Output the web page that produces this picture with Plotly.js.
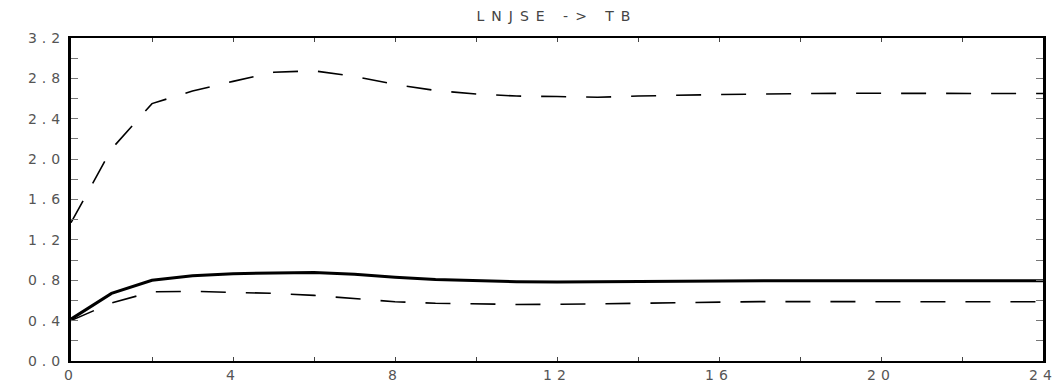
<!DOCTYPE html>
<html>
<head>
<meta charset="utf-8">
<script src="https://cdn.plot.ly/plotly-3.0.1.min.js"></script>
<style>
  html, body { margin: 0; padding: 0; background: #fff; }
  #chart { width: 1057px; height: 385px; }
  .xtick text, .ytick text { letter-spacing: 5px; }
  .gtitle { letter-spacing: 7px; }
</style>
</head>
<body>
<div id="chart"></div>
<script>
// Horizon (periods)
const horizon = [0,1,2,3,4,5,6,7,8,9,10,11,12,13,14,15,16,17,18,19,20,21,22,23,24];
// Impulse response LNJSE -> TB
const response = [0.415,0.67,0.80,0.845,0.865,0.875,0.878,0.86,0.83,0.808,0.795,0.785,0.782,0.785,0.79,0.793,0.795,0.796,0.796,0.796,0.796,0.796,0.795,0.795,0.795];
// Upper confidence band
const upperBand = [1.37,2.10,2.55,2.675,2.77,2.86,2.875,2.82,2.74,2.68,2.645,2.625,2.62,2.613,2.625,2.635,2.64,2.645,2.65,2.652,2.652,2.652,2.65,2.65,2.65];
// Lower confidence band
const lowerBand = [0.40,0.575,0.685,0.69,0.68,0.67,0.65,0.615,0.587,0.572,0.563,0.56,0.561,0.567,0.575,0.58,0.587,0.588,0.588,0.588,0.588,0.588,0.587,0.587,0.587];
// Axis ticks
const xTickVals = [0,4,8,12,16,20,24];
const yTickVals = [0.0,0.4,0.8,1.2,1.6,2.0,2.4,2.8,3.2];
const chartTitle = "LNJSE -> TB";

const traces = [
  {x: horizon, y: upperBand, type: 'scatter', mode: 'lines',
   line: {color: '#000', width: 1.6, dash: '25px,20px'}, hoverinfo: 'skip'},
  {x: horizon, y: lowerBand, type: 'scatter', mode: 'lines',
   line: {color: '#000', width: 1.6, dash: '25px,20px'}, hoverinfo: 'skip'},
  {x: horizon, y: response, type: 'scatter', mode: 'lines',
   line: {color: '#000', width: 3}, hoverinfo: 'skip'}
];

const tickFont = {family: 'DejaVu Sans, sans-serif', size: 14, color: '#555'};

const layout = {
  width: 1057, height: 385,
  margin: {l: 71, r: 14, t: 38, b: 24, pad: 0},
  paper_bgcolor: '#fff', plot_bgcolor: '#fff',
  showlegend: false,
  title: {text: chartTitle, x: 0.5, xref: 'paper', xanchor: 'center', y: 0.958, yanchor: 'middle',
          font: {family: 'DejaVu Sans, sans-serif', size: 14, color: '#444'}},
  xaxis: {
    range: [0, 24], tickvals: xTickVals, ticktext: xTickVals.map(String),
    showgrid: false, zeroline: false,
    showline: true, linecolor: '#000', linewidth: 2, mirror: 'allticks',
    ticks: 'inside', ticklen: 4, tickwidth: 1, tickcolor: '#444',
    minor: {dtick: 2, tick0: 0, ticks: 'inside', ticklen: 4, tickwidth: 1, tickcolor: '#444', showgrid: false},
    tickfont: tickFont, ticklabeloverflow: 'allow', fixedrange: true
  },
  yaxis: {
    range: [0, 3.2], tickvals: yTickVals, ticktext: yTickVals.map(v => v.toFixed(1)),
    showgrid: false, zeroline: false,
    showline: true, linecolor: '#000', linewidth: 3, mirror: 'allticks',
    ticks: 'inside', ticklen: 7, tickwidth: 1, tickcolor: '#777',
    minor: {dtick: 0.2, tick0: 0, ticks: 'inside', ticklen: 7, tickwidth: 1, tickcolor: '#777', showgrid: false},
    tickfont: tickFont, ticklabeloverflow: 'allow', fixedrange: true
  }
};

Plotly.newPlot('chart', traces, layout, {staticPlot: true, displayModeBar: false});
</script>
</body>
</html>
